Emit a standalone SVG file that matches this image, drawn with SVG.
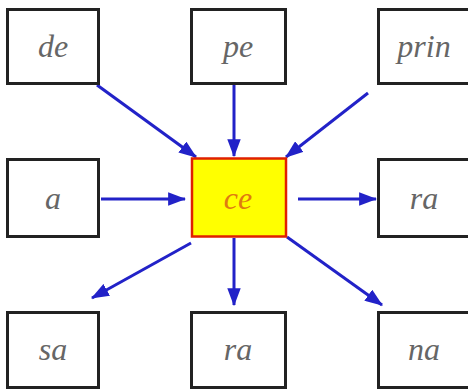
<svg xmlns="http://www.w3.org/2000/svg" width="468" height="392" viewBox="0 0 468 392">
<defs>
<style>
.box{fill:#fff;stroke:#222;stroke-width:3}
.center{fill:#ffff00;stroke:#e02000;stroke-width:2.5}
.lbl{font-family:"Liberation Serif",serif;font-style:italic;font-size:32px;fill:#666;text-anchor:middle}
.clbl{fill:#e07a10}
.arr{stroke:#2222c8;stroke-width:3;fill:none;marker-end:url(#ah)}
</style>
<marker id="ah" viewBox="0 0 16 12" refX="15" refY="6" markerWidth="6" markerHeight="4.5" orient="auto" markerUnits="strokeWidth">
<path d="M0,0 L16,6 L0,12 z" fill="#2222c8"/>
</marker>
</defs>
<rect width="468" height="392" fill="#fff"/>
<g id="connectors">
<line class="arr" x1="97" y1="85" x2="196" y2="157"/>
<line class="arr" x1="234" y1="85" x2="234" y2="156"/>
<line class="arr" x1="368" y1="93" x2="286" y2="157"/>
<line class="arr" x1="101" y1="199" x2="185" y2="199"/>
<line class="arr" x1="298" y1="199" x2="376" y2="199"/>
<line class="arr" x1="191" y1="243" x2="92" y2="298"/>
<line class="arr" x1="234" y1="238" x2="234" y2="305"/>
<line class="arr" x1="287" y1="237" x2="382" y2="305"/>
</g>
<g id="n-de"><rect class="box" x="7.5" y="9.5" width="91" height="74"/><text class="lbl" x="53" y="57">de</text></g>
<g id="n-pe"><rect class="box" x="191.5" y="9.5" width="94" height="74"/><text class="lbl" x="238" y="57">pe</text></g>
<g id="n-prin"><rect class="box" x="378.5" y="9.5" width="95" height="74"/><text class="lbl" x="424" y="57">prin</text></g>
<g id="n-a"><rect class="box" x="7.5" y="159.5" width="91" height="77"/><text class="lbl" x="53" y="209">a</text></g>
<g id="n-ce"><rect class="center" x="192" y="158.5" width="94" height="78"/><text class="lbl clbl" x="238" y="209">ce</text></g>
<g id="n-ra1"><rect class="box" x="378.5" y="159.5" width="95" height="77"/><text class="lbl" x="424" y="209">ra</text></g>
<g id="n-sa"><rect class="box" x="7.5" y="312.5" width="91" height="75"/><text class="lbl" x="53" y="360">sa</text></g>
<g id="n-ra2"><rect class="box" x="191.5" y="312.5" width="94" height="75"/><text class="lbl" x="238" y="360">ra</text></g>
<g id="n-na"><rect class="box" x="378.5" y="312.5" width="95" height="75"/><text class="lbl" x="424" y="360">na</text></g>
</svg>
